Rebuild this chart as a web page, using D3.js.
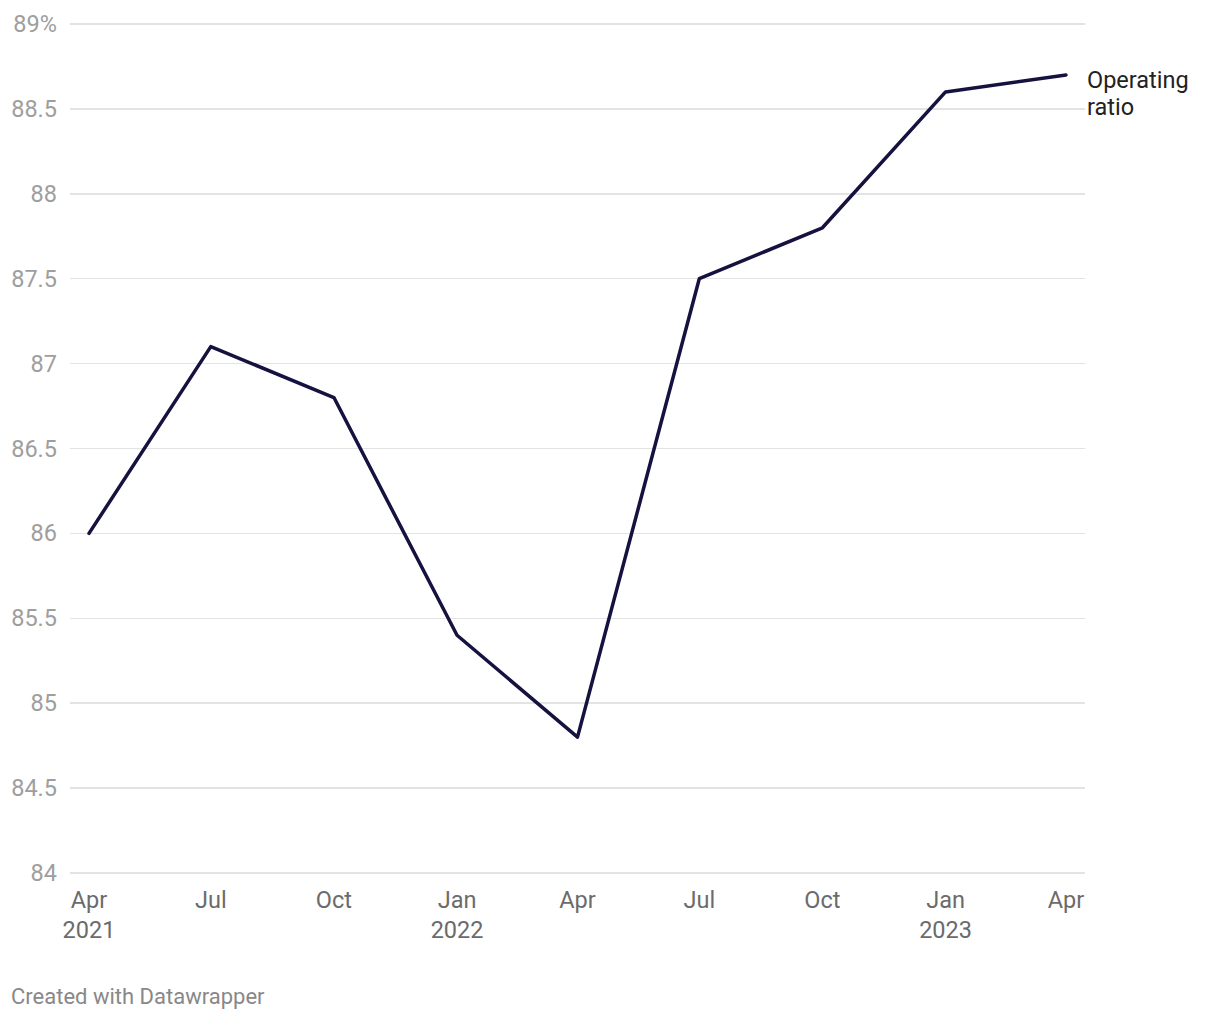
<!DOCTYPE html>
<html>
<head>
<meta charset="utf-8">
<script src="https://cdn.jsdelivr.net/npm/d3@7"></script>
<style>
  body { margin: 0; background: #fff; font-family: Roboto, "Noto Sans", sans-serif; }
</style>
</head>
<body>
<div id="chart"></div>
<script>
// quarterly dates and operating ratio values (%)
const dates = ["2021-04-01", "2021-07-01", "2021-10-01", "2022-01-01", "2022-04-01",
               "2022-07-01", "2022-10-01", "2023-01-01", "2023-04-01"];
const ratio = [86.0, 87.1, 86.8, 85.4, 84.8, 87.5, 87.8, 88.6, 88.7];
const yTicks = [84, 84.5, 85, 85.5, 86, 86.5, 87, 87.5, 88, 88.5, 89];
const xLabels = [["Apr", "2021"], ["Jul"], ["Oct"], ["Jan", "2022"], ["Apr"],
                 ["Jul"], ["Oct"], ["Jan", "2023"], ["Apr"]];

const width = 1220, height = 1020;
const parse = d3.timeParse("%Y-%m-%d");
const data = dates.map((d, i) => ({ date: parse(d), value: ratio[i] }));

const svg = d3.select("#chart").append("svg")
  .attr("width", width)
  .attr("height", height);

const x = d3.scaleTime()
  .domain(d3.extent(data, d => d.date))
  .range([89, 1066]);

const y = d3.scaleLinear()
  .domain([84, 89])
  .range([873, 24]);

// gridlines
svg.append("g")
  .selectAll("line")
  .data(yTicks)
  .join("line")
  .attr("x1", 70)
  .attr("x2", 1085)
  .attr("y1", d => y(d))
  .attr("y2", d => y(d))
  .attr("stroke", "#e3e3e3")
  .attr("stroke-width", 1.5)
  .attr("shape-rendering", "crispEdges");

// y labels
svg.append("g")
  .selectAll("text")
  .data(yTicks)
  .join("text")
  .attr("x", 57)
  .attr("y", d => y(d) + 8)
  .attr("text-anchor", "end")
  .attr("fill", "#9e9e9e")
  .attr("font-size", "23.5px")
  .text(d => d === 89 ? "89%" : d);

// x labels
const xl = svg.append("g")
  .selectAll("text")
  .data(data)
  .join("text")
  .attr("x", d => x(d.date))
  .attr("y", 908)
  .attr("text-anchor", "middle")
  .attr("fill", "#6b6b6b")
  .attr("font-size", "23.5px");

xl.each(function (d, i) {
  const t = d3.select(this);
  xLabels[i].forEach((s, j) => {
    t.append("tspan")
      .attr("x", x(d.date))
      .attr("dy", j === 0 ? 0 : 30)
      .text(s);
  });
});

// line
const line = d3.line()
  .x(d => x(d.date))
  .y(d => y(d.value));

svg.append("path")
  .datum(data)
  .attr("d", line)
  .attr("fill", "none")
  .attr("stroke", "#15123f")
  .attr("stroke-width", 3.5)
  .attr("stroke-linejoin", "round")
  .attr("stroke-linecap", "round");

// series label
const last = data[data.length - 1];
const lbl = svg.append("text")
  .attr("x", 1087)
  .attr("y", y(last.value) + 13)
  .attr("fill", "#222")
  .attr("font-size", "23.5px");
["Operating", "ratio"].forEach((s, j) => {
  lbl.append("tspan")
    .attr("x", 1087)
    .attr("dy", j === 0 ? 0 : 27)
    .text(s);
});

// footer
svg.append("text")
  .attr("x", 11)
  .attr("y", 1004)
  .attr("fill", "#888")
  .attr("font-size", "22px")
  .text("Created with Datawrapper");
</script>
</body>
</html>
